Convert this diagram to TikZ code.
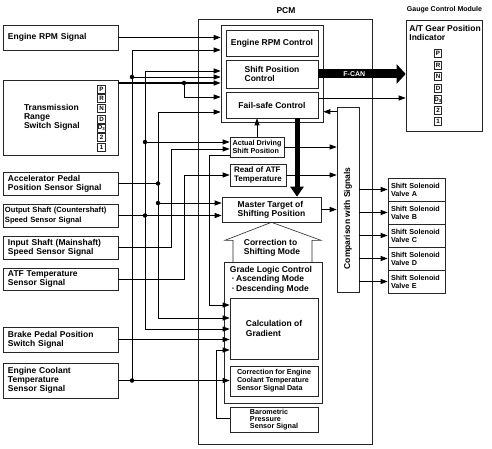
\documentclass[tikz,border=0pt]{standalone}
\usepackage{fontspec}
\setmainfont{Liberation Sans}
\usepackage{tikz}
\usetikzlibrary{calc, positioning, shapes, arrows, arrows.meta}
\def\sigfont{\fontsize{8.5}{9.3}\selectfont\bfseries}
\def\midfont{\fontsize{8}{8.8}\selectfont\bfseries}
\def\subfont{\fontsize{7.2}{7.9}\selectfont\bfseries}
\def\barofont{\fontsize{7.2}{7.1}\selectfont\bfseries}
\def\oddfont{\fontsize{7.6}{9.3}\selectfont\bfseries}
\def\gearfont{\fontsize{6.2}{6.5}\selectfont\bfseries}
\def\gaugefont{\fontsize{7}{8}\selectfont\bfseries}
\tikzstyle{block}=[draw=black!85, line width=0.6pt, inner sep=0pt, font=\sigfont]
\tikzstyle{signal}=[block, text width=105pt, inner xsep=5pt, align=left]
\tikzstyle{ctrl}=[block, align=left]
\tikzstyle{valve}=[block, font=\subfont, minimum height=23pt, text width=51pt, inner xsep=3pt, align=left]
\tikzstyle{gear}=[block, font=\gearfont, minimum width=8.5pt, minimum height=8pt]
\tikzstyle{junction}=[circle, fill=black, inner sep=0pt, minimum size=4.5pt]
\tikzstyle{outline}=[draw=black!85, line width=0.6pt]

\begin{document}
\begin{tikzpicture}[x=1pt, y=-1pt, line width=0.8pt, >={Triangle[length=7pt,width=5pt]}]
			\fill[white] (0,0) rectangle (492,449);
			\useasboundingbox (0,0) rectangle (492,449);

			% Draw the input signal boxes
			\node[signal, minimum height=25pt] (rpm) at (60.5,37.5) {Engine RPM Signal};
			\node[signal, minimum height=75pt, text width=73pt, inner xsep=21pt] (trs) at (60.5,117.5) {Transmission\\Range\\Switch Signal};
			\node[signal, minimum height=23pt] (aps) at (60.5,183.5) {Accelerator Pedal\\Position Sensor Signal};
			\node[signal, minimum height=23pt, font=\oddfont, text width=111pt, inner xsep=2pt] (oss) at (60.5,215.5) {Output Shaft (Countershaft)\\Speed Sensor Signal};
			\node[signal, minimum height=23pt] (iss) at (60.5,247.5) {Input Shaft (Mainshaft)\\Speed Sensor Signal};
			\node[signal, minimum height=22pt] (atf) at (60.5,279) {ATF Temperature\\Sensor Signal};
			\node[signal, minimum height=25pt] (bpp) at (60.5,339.5) {Brake Pedal Position\\Switch Signal};
			\node[signal, minimum height=35pt] (ect) at (60.5,380.5) {Engine Coolant\\Temperature\\Sensor Signal};

			% Range switch positions
			\foreach \g/\y [count=\i] in {P/89.5, R/98.5, N/108, D/119, D\textsubscript{3}/128, 2/137, 1/147}
			\node[gear] (tr\i) at (101.5,\y) {\g};

			% Draw the PCM and its blocks
			\node[block, minimum width=174pt, minimum height=425pt] (pcm) at (285,231.5) {};
			\node[font=\sigfont] (pcmlbl) at (286,10.5) {PCM};
			\node[block, minimum width=102pt, minimum height=97pt] (grp) at (272,73.5) {};
			\node[ctrl, minimum width=92pt, minimum height=26pt] (erc) at (272,43) {Engine RPM Control};
			\node[ctrl, minimum width=92pt, minimum height=28pt] (spc) at (272,74) {Shift Position\\Control};
			\node[ctrl, minimum width=92pt, minimum height=26pt] (fsc) at (272,105) {Fail-safe Control};
			\node[ctrl, font=\subfont, minimum width=54pt, minimum height=20pt] (ads) at (257,147) {Actual Driving\\Shift Position};
			\node[ctrl, font=\midfont, minimum width=56pt, minimum height=22pt] (rat) at (258,175) {Read of ATF\\Temperature};
			\node[ctrl, minimum width=99pt, minimum height=25pt] (mts) at (271.5,209.5) {Master Target of\\Shifting Position};
			\node[block, minimum width=98pt, minimum height=141pt] (glc) at (273,332.5) {};
			\node[font=\sigfont, align=left, anchor=north west, inner sep=0pt] (glclbl) at (229.5,266) {Grade Logic Control\\\hspace*{2pt}·\,Ascending Mode\\\hspace*{2pt}·\,Descending Mode};
			\node[ctrl, minimum width=88pt, minimum height=61pt] (cog) at (274,328.5) {Calculation of\\Gradient};
			\node[ctrl, font=\subfont, minimum width=88pt, minimum height=30pt] (cfe) at (274,381) {Correction for Engine\\Coolant Temperature\\Sensor Signal Data};
			\node[ctrl, font=\barofont, minimum width=88pt, minimum height=25pt] (bps) at (274,419.5) {Barometric\\Pressure\\Sensor Signal};
			\node[block, minimum width=22pt, minimum height=185pt] (cws) at (348,199.5) {};
			\node[font=\sigfont, rotate=90] (cwslbl) at (348,218.5) {Comparison with Signals};

			% Correction arrow outline
			\draw[outline] (mts.south) -- ++(49.5,18) -- ++(-9,0) -- ++(0,22);
			\draw[outline] (mts.south) -- ++(-46.5,18) -- ++(8,0) -- ++(0,22);
			\node[font=\sigfont, align=left] (cor) at (272,248) {Correction to\\Shifting Mode};

			% Gauge control module
			\node[font=\gaugefont] (gcmlbl) at (444.5,10) {Gauge Control Module};
			\node[block, minimum width=76pt, minimum height=111pt] (gcm) at (444,75.5) {};
			\node[font=\sigfont, align=left, anchor=north west, inner sep=0pt] (gcmttl) at (409,25) {A/T Gear Position\\Indicator};
			\foreach \g/\y [count=\i] in {P/53.5, R/65, N/76.5, D/88, D\textsubscript{3}/99.5, 2/110.5, 1/121}
			\node[gear, minimum width=7.5pt] (ind\i) at (438,\y) {\g};

			% Entry points and bus lines
			\coordinate (ercB) at ($(erc.west -| grp.west)+(0,7)$);
			\coordinate (spcA) at ($(spc.west -| grp.west)+(0,-3)$);
			\coordinate (spcB) at ($(spc.west -| grp.west)+(0,3)$);
			\coordinate (spcC) at ($(spc.west -| grp.west)+(0,9)$);
			\coordinate (fscA) at ($(fsc.west -| grp.west)+(0,-8)$);
			\coordinate (fscB) at ($(fsc.west -| grp.west)+(0,7)$);
			\coordinate (adsA) at ($(ads.west)+(0,-5)$);
			\coordinate (adsB) at ($(ads.west)+(0,2)$);
			\coordinate (adsC) at ($(ads.west)+(0,8)$);
			\coordinate (mtsA) at ($(mts.west)+(0,-6.5)$);
			\coordinate (cogA) at ($(cog.west)+(0,-23.5)$);
			\coordinate (cogB) at ($(cog.west)+(0,-10.5)$);
			\coordinate (cogC) at ($(cog.west)+(0,0.5)$);
			\coordinate (cogE) at ($(cog.west)+(0,21.5)$);
			\coordinate (bpsO) at ($(bps.west)+(0,-1.5)$);
			\foreach \name/\x in {b1/132, b2/145, b3/158, b4/171, b5/184, b6/209, b7/216}
			\coordinate (\name) at (\x,0);

			% Connect the signals with the PCM blocks
			\draw[->] (rpm.east) -- (rpm.east -| grp.west);
			\draw[->] (ect.east -| b1) |- (ercB);
			\draw[->] (spcB -| b1) -- (spcB);
			\draw[<->] (spcA) -- (spcA -| b2) -- (cogC -| b2) -- (cogC);
			\draw[->] (adsA -| b2) -- (adsA);
			\draw[<->] (fscB) -- (fscB -| b3) -- (cogB -| b3) -- (cogB);
			\draw (aps.east) -- (aps.east -| b3);
			\draw[->] (mtsA -| b3) -- (mtsA);
			\draw[->] (oss.east) -- (oss.east -| mts.west);
			\draw[->] (iss.east) -| (adsB -| b4) -- (adsB);
			\draw[->, line width=1.4pt] (spcC -| trs.east) -- (spcC);
			\draw[->] (spcC -| b5) |- (fscA);
			\draw[->] (atf.east) -| (rat.west -| b5) -- (rat.west);
			\draw[->] (adsC) -| (cogA -| b6) -- (cogA);
			\draw[->] (bpsO) -| (cogE -| b7) -- (cogE);
			\draw[->] (bpp.east) -- (bpp.east -| cog.west);
			\draw[->] (ect.east) -- (ect.east -| cfe.west);

			% Junction dots
			\foreach \pt in {ect.east -| b1, spcB -| b1, adsA -| b2, oss.east -| b2, aps.east -| b3, mtsA -| b3, spcC -| b5}
			\node[junction] at (\pt) {};

			% Links inside the PCM
			\coordinate (fscS) at ($(fsc.south)+(25,0)$);
			\coordinate (fscO) at ($(fsc.east)+(0,-7)$);
			\coordinate (cwsF) at ($(cws.north west)+(0,5)$);
			\draw[->] (ads.north) -- (ads.north |- fsc.south);
			\draw[line width=5pt, -{Triangle[length=10pt,width=13pt]}] (fscS) -- (fscS |- mts.north);
			\draw[->] (ads.east) -- (ads.east -| cws.west);
			\draw[->] (rat.east) -- (rat.east -| cws.west);
			\draw[->] (mts.east) -- (mts.east -| cws.west);
			\draw[->] (cwsF) -- (cwsF -| grp.east);
			\draw[->] (fscO) -- (fscO -| gcm.west);
			\draw[line width=9pt, -{Triangle[length=9pt,width=19pt]}] (spc.east) -- (spc.east -| gcm.west);
			\node[font=\gaugefont, text=white] (fcan) at ($(spc.east)+(36,0.5)$) {F-CAN};

			% Shift solenoid valves
			\foreach \v/\y in {A/189.5, B/212.5, C/235.5, D/258.5, E/281.5}
			{
			\node[valve] (sv\v) at (416.5,\y) {Shift Solenoid\\Valve \v};
			\draw[->] (cws.east |- sv\v) -- (sv\v.west);
			}
		\end{tikzpicture}
\end{document}
